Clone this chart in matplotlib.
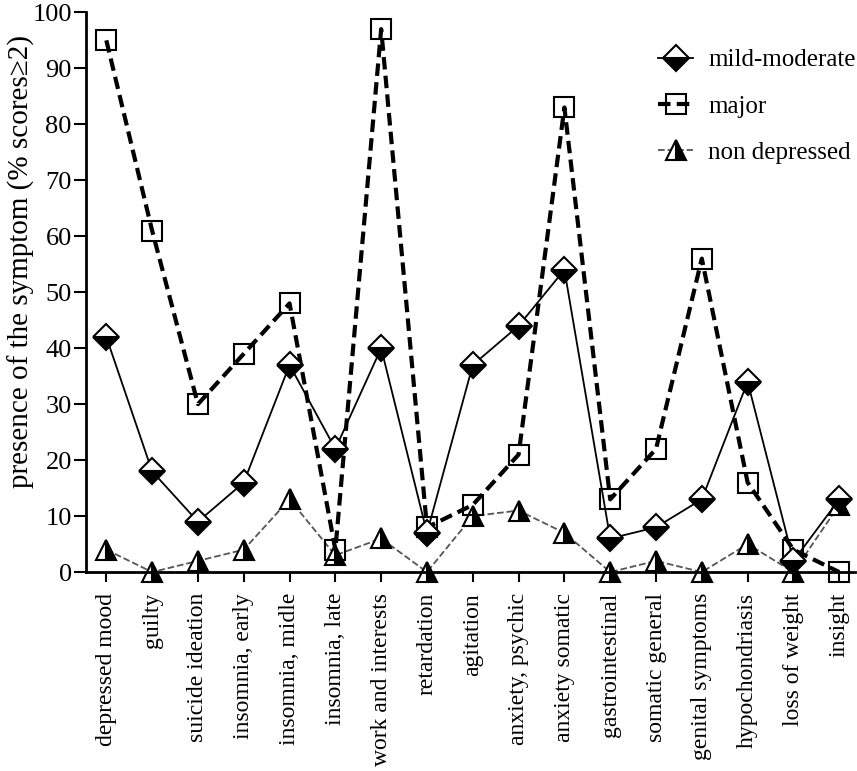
import matplotlib
matplotlib.use("Agg")
import matplotlib.pyplot as plt

plt.rcParams['font.family'] = ['Liberation Serif', 'DejaVu Serif']

# HAM-D items
symptoms = ["depressed mood", "guilty", "suicide ideation", "insomnia, early",
            "insomnia, midle", "insomnia, late", "work and interests",
            "retardation", "agitation", "anxiety, psychic", "anxiety somatic",
            "gastrointestinal", "somatic general", "genital symptoms",
            "hypochondriasis", "loss of weight", "insight"]

# % of patients scoring >= 2
mild_moderate = [42, 18, 9, 16, 37, 22, 40, 7, 37, 44, 54, 6, 8, 13, 34, 2, 13]
major = [95, 61, 30, 39, 48, 4, 97, 8, 12, 21, 83, 13, 22, 56, 16, 4, 0]
non_depressed = [4, 0, 2, 4, 13, 3, 6, 0, 10, 11, 7, 0, 2, 0, 5, 0, 12]

x = list(range(len(symptoms)))

fig = plt.figure(figsize=(8.57, 7.71), dpi=100)
ax = fig.add_axes([0.1, 0.258, 0.898, 0.726])

ax.plot(x, non_depressed, color='#555555', linestyle='--', linewidth=1.3,
        marker='^', markersize=15, fillstyle='right', markerfacecolor='black',
        markerfacecoloralt='white', markeredgecolor='black', markeredgewidth=1.5,
        label='non depressed', zorder=2, clip_on=False)
ax.plot(x, major, color='black', linestyle=(0, (3, 1.5)), linewidth=3,
        marker='s', markersize=15, markerfacecolor='none',
        markeredgecolor='black', markeredgewidth=1.5, label='major', zorder=3,
        clip_on=False)
ax.plot(x, mild_moderate, color='black', linestyle='-', linewidth=1.3,
        marker='D', markersize=13, fillstyle='bottom', markerfacecolor='black',
        markerfacecoloralt='white', markeredgecolor='black', markeredgewidth=1.5,
        label='mild-moderate', zorder=4, clip_on=False)

ax.set_xlim(-0.45, 16.35)
ax.set_ylim(0, 100)
ax.set_yticks(range(0, 101, 10))
ax.set_xticks(x)
ax.set_xticklabels(symptoms, rotation=90, fontsize=17)
ax.tick_params(axis='y', labelsize=19, length=9, width=1.5, pad=1)
ax.tick_params(axis='x', length=7, width=1.5, pad=8)
ax.set_ylabel("presence of the symptom (% scores\u22652)", fontsize=21)
ax.yaxis.set_label_coords(-0.066, 0.554)

ax.spines['top'].set_visible(False)
ax.spines['right'].set_visible(False)
ax.spines['left'].set_linewidth(2)
ax.spines['bottom'].set_linewidth(2)

handles, labels = ax.get_legend_handles_labels()
ax.legend(handles[::-1], labels[::-1], loc='upper right', frameon=False,
          fontsize=18, handlelength=1.4, handletextpad=0.6, labelspacing=0.95,
          bbox_to_anchor=(1.03, 0.975))

fig.savefig("out.png", dpi=100)
